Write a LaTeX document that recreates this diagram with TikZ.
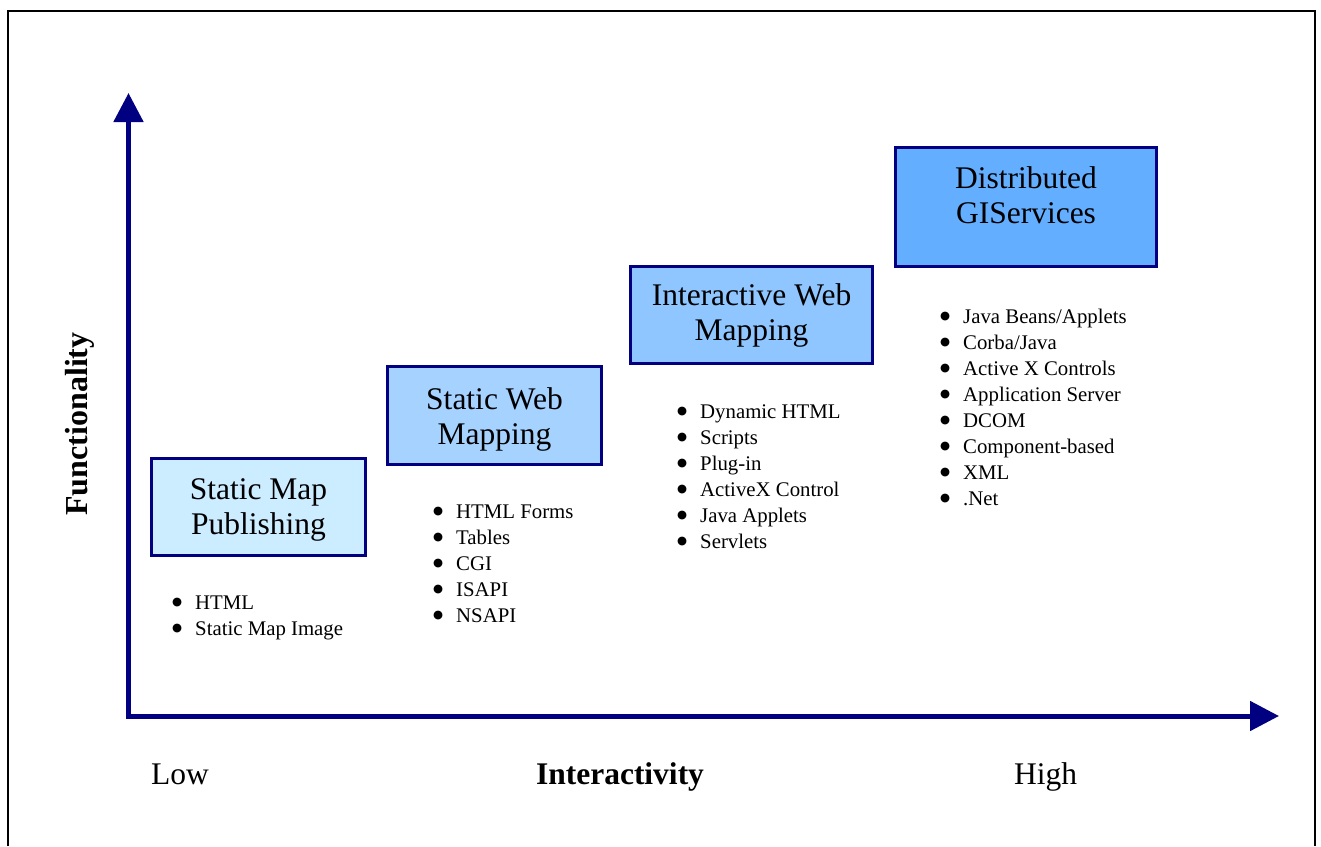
\documentclass[tikz,border=0pt]{standalone}
\usepackage{fontspec}
\setmainfont{Liberation Serif}
\newfontfamily\symfont{DejaVu Sans}
\usetikzlibrary{arrows.meta}
\definecolor{navy}{HTML}{000080}
\definecolor{fillA}{HTML}{CCECFF}
\definecolor{fillB}{HTML}{A6D2FF}
\definecolor{fillC}{HTML}{8FC6FF}
\definecolor{fillD}{HTML}{63AEFF}
\newcommand\bitem[1]{\makebox[23pt][l]{\raisebox{3.5pt}{\symfont\fontsize{11.5}{12}\selectfont ●}}#1}
\tikzset{
  stagebox/.style={draw=navy, line width=3pt, rectangle, inner sep=0pt},
  title/.style={font=\fontsize{31.5}{35}\selectfont, inner sep=0pt, anchor=base},
  itemlist/.style={font=\fontsize{20.8}{26}\selectfont, inner sep=0pt, anchor=base west},
  axlabel/.style={font=\fontsize{31.5}{36}\selectfont, inner sep=0pt, anchor=base},
  axis/.style={draw=navy, line width=5pt, line join=miter,
    {Triangle[length=29pt,width=29pt]}-{Triangle[length=29pt,width=29pt]}},
  frame/.style={draw=black, line width=2pt, line join=miter}
}
\begin{document}
\begin{tikzpicture}[x=1pt,y=-1pt]
\useasboundingbox (0,0) rectangle (1321,846);
\fill[white] (0,0) rectangle (1321,846);
% outer frame
\draw[frame] (8,846) -- (8,10.5) -- (1314.5,10.5) -- (1314.5,846);

% axes
\coordinate (o) at (128.5,716);
\coordinate (ytip) at (128.5,93);
\coordinate (xtip) at (1279,716);
\draw[axis] (ytip) -- (o) -- (xtip);

% stage boxes
\node[stagebox, fill=fillA, minimum width=214pt, minimum height=97pt] (b1) at (258.5,507) {};
\node[stagebox, fill=fillB, minimum width=214pt, minimum height=98pt] (b2) at (494.5,415.5) {};
\node[stagebox, fill=fillC, minimum width=242pt, minimum height=97pt] (b3) at (751.5,315) {};
\node[stagebox, fill=fillD, minimum width=261pt, minimum height=119pt] (b4) at (1026,207) {};

\node[title] (t1) at (258.5,499) {\begin{tabular}[t]{@{}c@{}}Static Map\\Publishing\end{tabular}};
\node[title] (t2) at (494.5,409) {\begin{tabular}[t]{@{}c@{}}Static Web\\Mapping\end{tabular}};
\node[title] (t3) at (751.5,305) {\begin{tabular}[t]{@{}c@{}}Interactive Web\\Mapping\end{tabular}};
\node[title] (t4) at (1026,188) {\begin{tabular}[t]{@{}c@{}}Distributed\\GIServices\end{tabular}};

% technology lists
\node[itemlist] (l1) at (172,609) {\begin{tabular}[t]{@{}l@{}}
\bitem{HTML}\\ \bitem{Static Map Image}\end{tabular}};
\node[itemlist] (l2) at (433,518) {\begin{tabular}[t]{@{}l@{}}
\bitem{HTML Forms}\\ \bitem{Tables}\\ \bitem{CGI}\\ \bitem{ISAPI}\\ \bitem{NSAPI}\end{tabular}};
\node[itemlist] (l3) at (677,418) {\begin{tabular}[t]{@{}l@{}}
\bitem{Dynamic HTML}\\ \bitem{Scripts}\\ \bitem{Plug-in}\\ \bitem{ActiveX Control}\\ \bitem{Java Applets}\\ \bitem{Servlets}\end{tabular}};
\node[itemlist] (l4) at (940,323) {\begin{tabular}[t]{@{}l@{}}
\bitem{Java Beans/Applets}\\ \bitem{Corba/Java}\\ \bitem{Active X Controls}\\ \bitem{Application Server}\\ \bitem{DCOM}\\ \bitem{Component-based}\\ \bitem{XML}\\ \bitem{.Net}\end{tabular}};

% axis labels
\node[axlabel, anchor=base west] (low) at (151,784) {Low};
\node[axlabel, font=\fontsize{31.5}{36}\selectfont\bfseries] (inter) at (620,784) {Interactivity};
\node[axlabel, anchor=base west] (high) at (1014,784) {High};
\node[axlabel, font=\fontsize{32}{36}\selectfont\bfseries, rotate=90] (func) at (87,424) {Functionality};
\end{tikzpicture}
\end{document}
